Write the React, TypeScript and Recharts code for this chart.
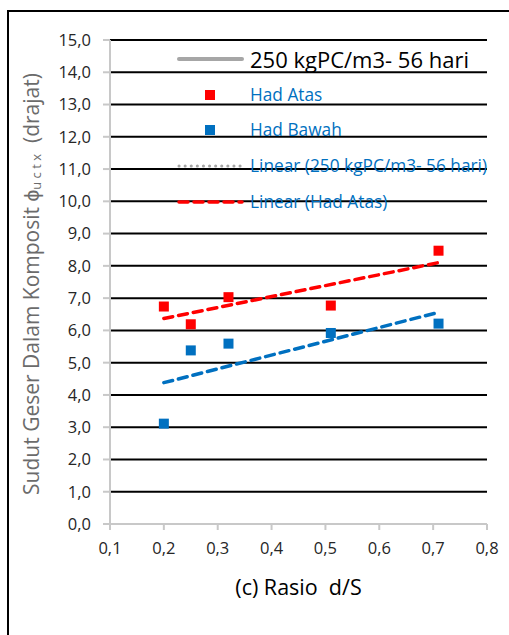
import React from 'react';
import { ScatterChart, Scatter, XAxis, YAxis, CartesianGrid } from 'recharts';

// d/S ratios
const ratios = [0.2, 0.25, 0.32, 0.51, 0.71];
const hadAtas = [6.74, 6.19, 7.03, 6.77, 8.47];
const hadBawah = [3.11, 5.38, 5.59, 5.92, 6.21];

// trendline end points
const trendX = [0.2, 0.71];
const trendAtas = [6.37, 8.1];
const trendBawah = [4.38, 6.56];

const xTicks = [0.1, 0.2, 0.3, 0.4, 0.5, 0.6, 0.7, 0.8];
const yTicks = [0, 1, 2, 3, 4, 5, 6, 7, 8, 9, 10, 11, 12, 13, 14, 15];
const gridValues = yTicks.filter(v => v > 0);

const legendItems = [
  { label: '250 kgPC/m3- 56 hari', kind: 'line', color: '#A6A6A6' },
  { label: 'Had Atas', kind: 'square', color: '#FF0000' },
  { label: 'Had Bawah', kind: 'square', color: '#0070C0' },
  { label: 'Linear (250 kgPC/m3- 56 hari)', kind: 'dots', color: '#A6A6A6' },
  { label: 'Linear (Had Atas)', kind: 'dash', color: '#FF0000' },
];

const FONT = '"Open Sans", sans-serif';
const comma = (v: number) => v.toFixed(1).replace('.', ',');

const toPts = (xs: number[], ys: number[]) => xs.map((x, i) => ({ x, y: ys[i] }));

const Square = (props: any) => {
  const { cx, cy, fill } = props;
  if (cx == null || cy == null) return <g />;
  return <rect x={cx - 5} y={cy - 5} width={10} height={10} fill={fill} />;
};
const NoDot = () => <g />;

function LegendBox() {
  return (
    <div style={{ position: 'absolute', left: 174, top: 44, fontFamily: FONT }}>
      {legendItems.map((it, i) => (
        <div key={i} style={{ position: 'absolute', left: 0, top: [0, 36, 71, 107, 143][i], height: 30, display: 'flex', alignItems: 'center', whiteSpace: 'nowrap' }}>
          <svg width={76} height={30}>
            {it.kind === 'line' && <line x1={5} y1={15} x2={68} y2={15} stroke={it.color} strokeWidth={4} strokeLinecap="round" />}
            {it.kind === 'square' && <rect x={31} y={10} width={10} height={10} fill={it.color} />}
            {it.kind === 'dots' && <line x1={5} y1={15} x2={68} y2={15} stroke={it.color} strokeWidth={3} strokeDasharray="0.1 6" strokeLinecap="round" />}
            {it.kind === 'dash' && <line x1={5} y1={15} x2={68} y2={15} stroke={it.color} strokeWidth={3.5} strokeDasharray="9 6" strokeLinecap="round" />}
          </svg>
          <span style={{ fontSize: i === 0 ? 22 : 17.3, color: i === 0 ? '#000' : '#0070C0', lineHeight: '30px' }}>{it.label}</span>
        </div>
      ))}
    </div>
  );
}

const YTitle = () => (
  <text x={31} y={284} transform="rotate(-90, 31, 284)" textAnchor="middle" dominantBaseline="central"
    fill="#6b6b6b" fontFamily={FONT} fontSize={21}>
    Sudut Geser Dalam Komposit ϕ<tspan fontSize={13} dy={5}>u c t x</tspan><tspan dy={-5}>{'\u00a0 (drajat)'}</tspan>
  </text>
);

export default function App() {
  return (
    <div style={{ position: 'absolute', left: 0, top: 0, width: 509, height: 635, background: '#fff', overflow: 'hidden' }}>
      <div style={{ position: 'absolute', left: 7, top: 10, width: 600, height: 700, borderLeft: '2px solid #000', borderTop: '2px solid #000' }} />
      <ScatterChart width={509} height={635} margin={{ top: 40, right: 22, bottom: 41, left: 0 }} style={{ position: 'absolute', left: 0, top: 0 }}>
        <CartesianGrid vertical={false} horizontalValues={gridValues} stroke="#000" strokeWidth={2} />
        <XAxis type="number" dataKey="x" domain={[0.1, 0.8]} ticks={xTicks} height={70} interval={0}
          tickFormatter={comma} tick={{ fill: '#262626', fontSize: 16.5, fontFamily: FONT }}
          axisLine={{ stroke: '#C8C8C8', strokeWidth: 2 }} tickLine={{ stroke: '#C8C8C8', strokeWidth: 2 }} tickSize={6} tickMargin={12}
          label={{ value: '(c) Rasio \u00a0d/S', position: 'insideBottom', offset: -1, fill: '#000', fontSize: 21.5, fontFamily: FONT }} />
        <YAxis type="number" dataKey="y" domain={[0, 15]} ticks={yTicks} width={110} interval={0}
          tickFormatter={comma} tick={{ fill: '#262626', fontSize: 16.5, fontFamily: FONT }}
          axisLine={{ stroke: '#C8C8C8', strokeWidth: 2 }} tickLine={{ stroke: '#C8C8C8', strokeWidth: 2 }} tickSize={7} tickMargin={12}
          label={{ content: YTitle }} />
        <Scatter name="Linear (Had Atas)" data={toPts(trendX, trendAtas)} line={{ stroke: '#FF0000', strokeWidth: 3.5, strokeDasharray: '9 6', strokeLinecap: 'round' }} shape={NoDot} isAnimationActive={false} legendType="none" />
        <Scatter name="Linear (Had Bawah)" data={toPts(trendX, trendBawah)} line={{ stroke: '#0070C0', strokeWidth: 3.5, strokeDasharray: '9 6', strokeLinecap: 'round' }} shape={NoDot} isAnimationActive={false} legendType="none" />
        <Scatter name="Had Atas" data={toPts(ratios, hadAtas)} fill="#FF0000" shape={Square} isAnimationActive={false} />
        <Scatter name="Had Bawah" data={toPts(ratios, hadBawah)} fill="#0070C0" shape={Square} isAnimationActive={false} />
      </ScatterChart>
      <LegendBox />
    </div>
  );
}
